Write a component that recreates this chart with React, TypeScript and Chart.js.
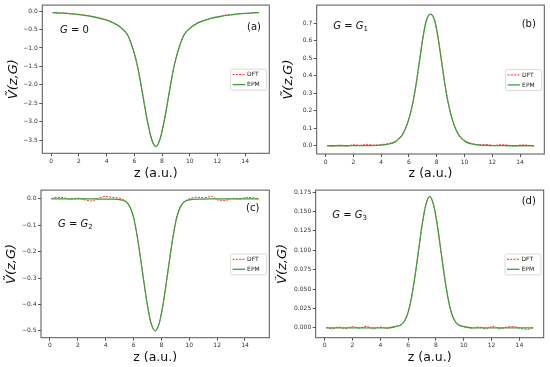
import React, { useEffect, useRef } from 'react';
import { Chart, registerables } from 'chart.js';

Chart.register(...registerables);

// ---------------- data ----------------
const zValues = [0.1, 0.5, 1.0, 1.5, 2.0, 2.5, 3.0, 3.5, 4.0, 4.5, 5.0, 5.5, 5.75, 6.0, 6.25, 6.5, 6.75, 7.0, 7.25, 7.55, 7.85, 8.1, 8.35, 8.6, 8.85, 9.1, 9.35, 9.6, 10.1, 10.6, 11.1, 11.6, 12.1, 12.6, 13.1, 13.6, 14.1, 14.6, 15.0];

const epmA = [-0.045, -0.05, -0.062, -0.075, -0.095, -0.12, -0.155, -0.195, -0.245, -0.32, -0.44, -0.64, -0.86, -1.15, -1.53, -2.03, -2.58, -3.08, -3.47, -3.67, -3.47, -3.08, -2.58, -2.03, -1.53, -1.15, -0.86, -0.64, -0.44, -0.32, -0.245, -0.195, -0.155, -0.12, -0.095, -0.075, -0.062, -0.05, -0.042];
const dftA = [-0.038, -0.058, -0.056, -0.084, -0.088, -0.128, -0.148, -0.204, -0.238, -0.33, -0.436, -0.64, -0.86, -1.15, -1.53, -2.03, -2.58, -3.08, -3.47, -3.67, -3.47, -3.08, -2.58, -2.03, -1.53, -1.15, -0.86, -0.64, -0.444, -0.312, -0.252, -0.187, -0.162, -0.113, -0.101, -0.069, -0.067, -0.046, -0.044];

const epmB = [0, 0, 0, 0, 0.001, 0.001, 0.001, 0.002, 0.004, 0.009, 0.022, 0.06, 0.098, 0.155, 0.235, 0.345, 0.48, 0.615, 0.715, 0.752, 0.715, 0.615, 0.48, 0.345, 0.235, 0.155, 0.098, 0.06, 0.022, 0.009, 0.004, 0.002, 0.001, 0.001, 0, 0, 0, 0, 0];
const dftB = [0.002, -0.003, 0.004, -0.002, 0.006, 0.003, 0.008, 0.003, 0.007, 0.012, 0.025, 0.061, 0.098, 0.155, 0.235, 0.345, 0.48, 0.615, 0.715, 0.752, 0.715, 0.615, 0.48, 0.345, 0.235, 0.155, 0.098, 0.06, 0.026, 0.012, 0.006, 0.007, 0.002, 0.006, 0.004, -0.002, 0.005, 0.003, -0.001];

const epmC = [0, 0, 0, 0, 0, 0, 0, -0.001, -0.001, -0.001, -0.003, -0.013, -0.032, -0.07, -0.138, -0.225, -0.318, -0.405, -0.47, -0.5, -0.47, -0.405, -0.318, -0.225, -0.138, -0.07, -0.032, -0.013, -0.003, -0.001, -0.001, 0, 0, 0, 0, 0, 0, 0, 0];
const dftC = [0.001, 0.006, 0.004, -0.002, 0.003, -0.004, -0.008, 0.002, 0.009, 0.005, 0.002, -0.012, -0.032, -0.07, -0.138, -0.225, -0.318, -0.405, -0.47, -0.5, -0.47, -0.405, -0.318, -0.225, -0.138, -0.07, -0.032, -0.013, 0.002, 0.006, 0.004, 0.009, -0.005, -0.006, 0.002, -0.001, 0.005, 0.004, -0.001];

const epmD = [0, 0, 0, 0, 0, 0, 0, 0, 0, 0, 0.001, 0.004, 0.009, 0.02, 0.04, 0.0675, 0.1, 0.132, 0.157, 0.1695, 0.157, 0.132, 0.1, 0.0675, 0.04, 0.02, 0.009, 0.004, 0.001, 0, 0, 0, 0, 0, 0, 0, 0, 0, 0];
const dftD = [0.0005, -0.0015, 0.001, -0.001, 0.0015, -0.0005, 0.002, -0.0015, 0.001, -0.001, 0.0015, 0.004, 0.009, 0.02, 0.04, 0.0675, 0.1, 0.132, 0.157, 0.1695, 0.157, 0.132, 0.1, 0.0675, 0.04, 0.02, 0.009, 0.004, 0.0015, -0.0005, 0.001, -0.0015, 0.002, -0.0015, 0.001, 0.0015, -0.001, -0.002, 0.0005];

const xTicks = [0, 2, 4, 6, 8, 10, 12, 14];
const yTicksA = [0, -0.5, -1.0, -1.5, -2.0, -2.5, -3.0, -3.5];
const yTicksB = [0, 0.1, 0.2, 0.3, 0.4, 0.5, 0.6, 0.7];
const yTicksC = [0, -0.1, -0.2, -0.3, -0.4, -0.5];
const yTicksD = [0, 0.025, 0.05, 0.075, 0.1, 0.125, 0.15, 0.175];

const seriesLabels = ['DFT', 'EPM'];
const xTitle = 'z (a.u.)';
const yTitle = 'V\u0303(z,G)';

// ---------------- styling ----------------
const FAMILY = "'DejaVu Sans', sans-serif";
const EPM_COLOR = '#3f9f3f';
const DFT_COLOR = '#ff2a2a';

const decoPlugin = {
  id: 'deco',
  afterDraw(chart: any, _args: any, opts: any) {
    const { ctx, chartArea: ca } = chart;
    ctx.save();
    // frame
    ctx.strokeStyle = '#555';
    ctx.lineWidth = 1;
    ctx.strokeRect(ca.left, ca.top, ca.right - ca.left, ca.bottom - ca.top);

    // G label: italic G, upright " = ", then italic G with subscript, or upright 0
    ctx.fillStyle = '#111';
    ctx.textBaseline = 'middle';
    ctx.textAlign = 'left';
    let x = opts.gX;
    const parts: { t: string; italic: boolean; size: number; dy: number }[] = opts.gParts;
    parts.forEach((pt) => {
      ctx.font = `${pt.italic ? 'italic ' : ''}${pt.size}px ${FAMILY}`;
      ctx.fillText(pt.t, x, opts.gY + pt.dy);
      x += ctx.measureText(pt.t).width;
    });
    // panel letter
    ctx.font = `10px ${FAMILY}`;
    ctx.fillText(opts.letter, opts.lX, opts.lY);

    // legend
    const bw = 36, bh = 21;
    const bx = ca.right - 2.7 - bw;
    const by = (ca.top + ca.bottom) / 2 - bh / 2 + 0.5;
    ctx.beginPath();
    const r = 1.5;
    ctx.moveTo(bx + r, by);
    ctx.lineTo(bx + bw - r, by);
    ctx.quadraticCurveTo(bx + bw, by, bx + bw, by + r);
    ctx.lineTo(bx + bw, by + bh - r);
    ctx.quadraticCurveTo(bx + bw, by + bh, bx + bw - r, by + bh);
    ctx.lineTo(bx + r, by + bh);
    ctx.quadraticCurveTo(bx, by + bh, bx, by + bh - r);
    ctx.lineTo(bx, by + r);
    ctx.quadraticCurveTo(bx, by, bx + r, by);
    ctx.closePath();
    ctx.fillStyle = 'rgba(255,255,255,0.85)';
    ctx.fill();
    ctx.strokeStyle = '#d0d0d0';
    ctx.lineWidth = 0.8;
    ctx.stroke();

    const rows = [
      { text: seriesLabels[0], color: DFT_COLOR, dash: [2, 1.3], w: 1 },
      { text: seriesLabels[1], color: EPM_COLOR, dash: [], w: 1.3 },
    ];
    rows.forEach((row, i) => {
      const y = by + 5.4 + i * 10;
      ctx.beginPath();
      ctx.setLineDash(row.dash);
      ctx.strokeStyle = row.color;
      ctx.lineWidth = row.w;
      ctx.moveTo(bx + 2, y);
      ctx.lineTo(bx + 14.5, y);
      ctx.stroke();
      ctx.setLineDash([]);
      ctx.fillStyle = '#222';
      ctx.font = `6px ${FAMILY}`;
      ctx.textBaseline = 'middle';
      ctx.fillText(row.text, bx + 16.5, y + 0.3);
    });
    ctx.restore();
  },
};

type PanelCfg = {
  left: number; top: number; w: number; h: number;
  area: { left: number; top: number; right: number; bottom: number };
  epm: number[]; dft: number[];
  yMin: number; yMax: number; yTicks: number[]; decimals: number;
  xTitlePad: number; yTitlePad: number;
  gRight: string; gSub: string; gX: number; gY: number;
  letter: string; lX: number; lY: number;
};

const fmt = (v: number, d: number) => {
  const s = Math.abs(v) < 1e-12 ? (0).toFixed(d) : v.toFixed(d);
  return s.replace('-', '\u2212');
};

function gParts(p: PanelCfg) {
  const parts = [
    { t: 'G', italic: true, size: 10, dy: 0 },
    { t: ' = ', italic: false, size: 10, dy: 0 },
  ];
  if (p.gSub) {
    parts.push({ t: 'G', italic: true, size: 10, dy: 0 });
    parts.push({ t: p.gSub, italic: false, size: 7, dy: 2.8 });
  } else {
    parts.push({ t: p.gRight, italic: false, size: 10, dy: 0 });
  }
  return parts;
}

function makeConfig(p: PanelCfg): any {
  const pts = (ys: number[]) => zValues.map((z, i) => ({ x: z, y: ys[i] }));
  return {
    type: 'line',
    data: {
      datasets: [
        { label: seriesLabels[1], data: pts(p.epm), borderColor: EPM_COLOR, borderWidth: 1.3, pointRadius: 0, cubicInterpolationMode: 'monotone', fill: false },
        { label: seriesLabels[0], data: pts(p.dft), borderColor: DFT_COLOR, borderWidth: 1, borderDash: [2, 1.3], pointRadius: 0, cubicInterpolationMode: 'monotone', fill: false },
      ],
    },
    options: {
      animation: false,
      responsive: false,
      devicePixelRatio: 1,
      events: [],
      layout: { padding: { top: p.area.top, right: p.w - p.area.right, left: 0, bottom: 0 } },
      plugins: {
        legend: { display: false },
        tooltip: { enabled: false },
        deco: { gParts: gParts(p), gX: p.gX, gY: p.gY, letter: p.letter, lX: p.lX, lY: p.lY },
      },
      scales: {
        x: {
          type: 'linear',
          min: -0.645,
          max: 15.745,
          afterFit: (s: any) => { s.height = p.h - p.area.bottom; },
          afterBuildTicks: (s: any) => { s.ticks = xTicks.map((v) => ({ value: v })); },
          ticks: { font: { size: 6, family: FAMILY }, color: '#333', padding: 1.5, maxRotation: 0, autoSkip: false, callback: (v: number) => String(v) },
          grid: { drawOnChartArea: false, drawTicks: true, tickLength: 3, color: '#555' },
          border: { display: false },
          title: { display: true, text: xTitle, font: { size: 12.5, family: FAMILY }, color: '#111', padding: { top: 0, bottom: p.xTitlePad } },
        },
        y: {
          type: 'linear',
          min: p.yMin,
          max: p.yMax,
          afterFit: (s: any) => { s.width = p.area.left; },
          afterBuildTicks: (s: any) => { s.ticks = p.yTicks.map((v) => ({ value: v })); },
          ticks: { font: { size: 6, family: FAMILY }, color: '#333', padding: 1.5, autoSkip: false, callback: (v: number) => fmt(v, p.decimals) },
          grid: { drawOnChartArea: false, drawTicks: true, tickLength: 3, color: '#555' },
          border: { display: false },
          title: { display: true, text: yTitle, font: { size: 13, family: FAMILY, style: 'italic' }, color: '#111', padding: { top: p.yTitlePad, bottom: 0 } },
        },
      },
    },
    plugins: [decoPlugin],
  };
}

const panels: PanelCfg[] = [
  {
    left: 0, top: 0, w: 275, h: 185,
    area: { left: 42.3, top: 4.7, right: 269.3, bottom: 153.3 },
    epm: epmA, dft: dftA, yMin: -3.85, yMax: 0.16, yTicks: yTicksA, decimals: 1,
    xTitlePad: 3.3, yTitlePad: 5.6,
    gRight: '0', gSub: '', gX: 60, gY: 30.7, letter: '(a)', lX: 247, lY: 27,
  },
  {
    left: 275, top: 0, w: 275, h: 185,
    area: { left: 41.7, top: 4.7, right: 269.3, bottom: 154 },
    epm: epmB, dft: dftB, yMin: -0.047, yMax: 0.803, yTicks: yTicksB, decimals: 1,
    xTitlePad: 3.3, yTitlePad: 5.6,
    gRight: '', gSub: '1', gX: 58.3, gY: 26.7, letter: '(b)', lX: 246.7, lY: 24,
  },
  {
    left: 0, top: 185, w: 275, h: 182,
    area: { left: 41, top: 4, right: 269.3, bottom: 152.7 },
    epm: epmC, dft: dftC, yMin: -0.526, yMax: 0.033, yTicks: yTicksC, decimals: 1,
    xTitlePad: 1.9, yTitlePad: 4.0,
    gRight: '', gSub: '2', gX: 58, gY: 39.3, letter: '(c)', lX: 246, lY: 23.3,
  },
  {
    left: 275, top: 185, w: 275, h: 182,
    area: { left: 40.7, top: 4, right: 268.7, bottom: 152.7 },
    epm: epmD, dft: dftD, yMin: -0.0128, yMax: 0.1776, yTicks: yTicksD, decimals: 3,
    xTitlePad: 1.9, yTitlePad: 0.2,
    gRight: '', gSub: '3', gX: 57.3, gY: 30, letter: '(d)', lX: 246.7, lY: 16.7,
  },
];

function Panel({ cfg }: { cfg: PanelCfg }) {
  const ref = useRef<HTMLCanvasElement | null>(null);
  useEffect(() => {
    if (!ref.current) return;
    const chart = new Chart(ref.current, makeConfig(cfg));
    return () => chart.destroy();
  }, [cfg]);
  return (
    <canvas
      ref={ref}
      width={cfg.w}
      height={cfg.h}
      style={{ position: 'absolute', left: cfg.left, top: cfg.top, width: cfg.w, height: cfg.h }}
    />
  );
}

export default function App() {
  return (
    <div style={{ position: 'fixed', left: 0, top: 0, width: 550, height: 367, background: '#fff', overflow: 'hidden' }}>
      {panels.map((p, i) => (
        <Panel key={i} cfg={p} />
      ))}
    </div>
  );
}
